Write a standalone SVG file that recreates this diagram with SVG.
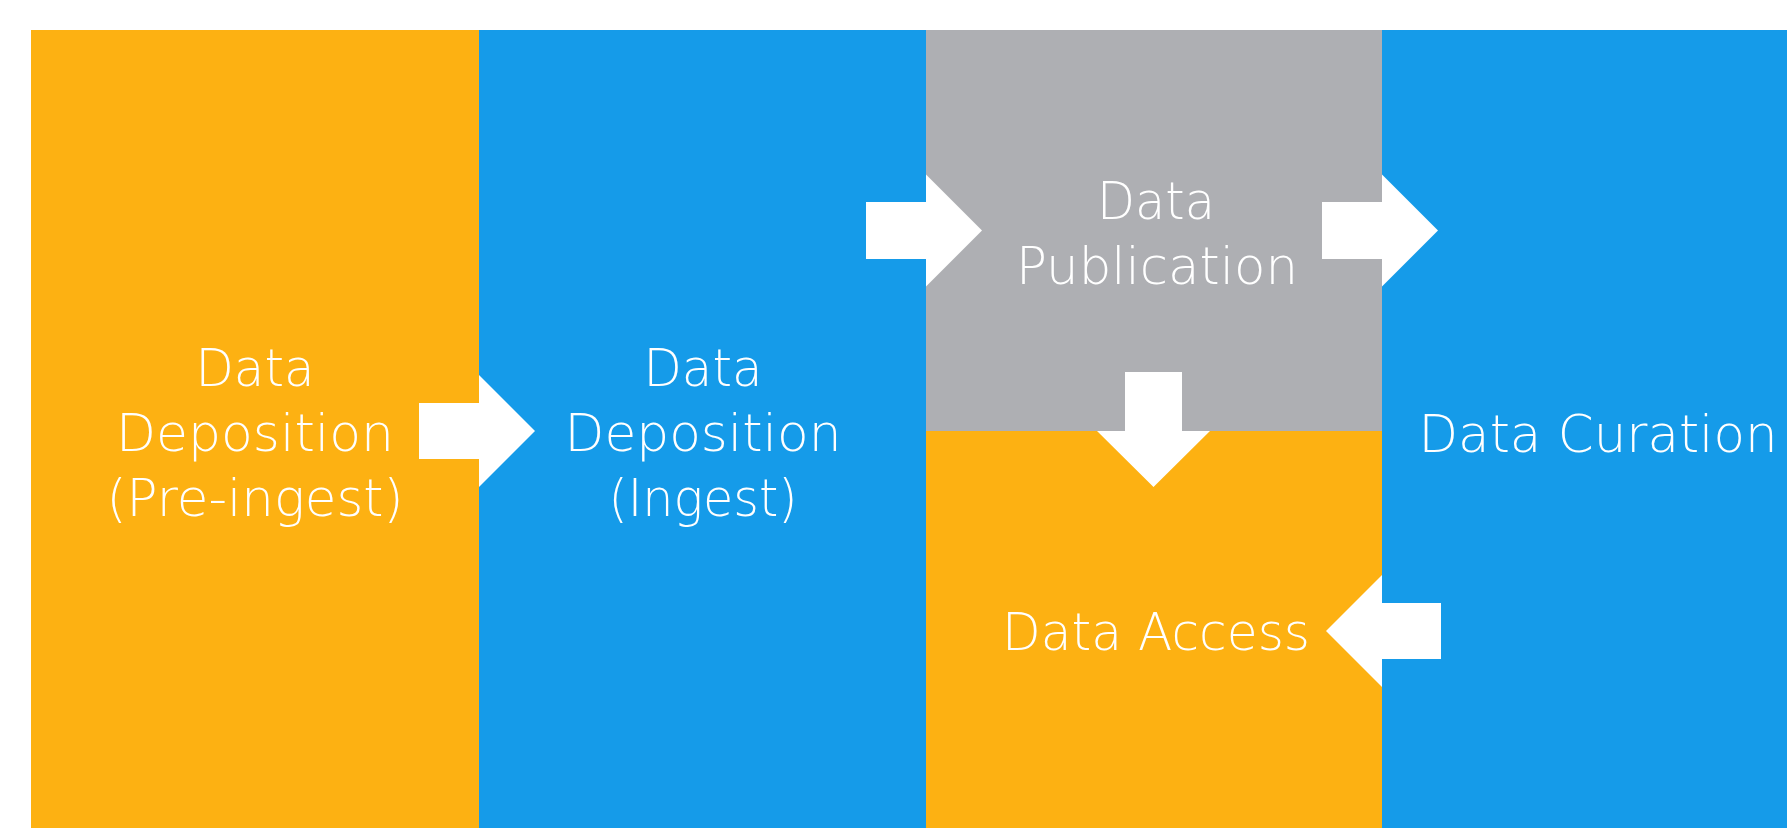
<svg xmlns="http://www.w3.org/2000/svg" width="1787" height="828" viewBox="0 0 1787 828">
<style>
.orange{fill:#FDB112}
.blue{fill:#159BE9}
.grey{fill:#AEAFB3}
.arrow{fill:#FFFFFF}
text{font-family:"DejaVu Sans","Liberation Sans",sans-serif;font-weight:200;font-size:51px;fill:#FFFFFF;text-anchor:middle}
</style>
<rect x="0" y="0" width="1787" height="828" fill="#FFFFFF"/>
<g id="node-preingest">
<rect class="orange" x="31" y="30" width="448" height="798"/>
<text x="255" y="386" textLength="119" lengthAdjust="spacingAndGlyphs">Data</text>
<text x="255" y="451" textLength="278" lengthAdjust="spacingAndGlyphs">Deposition</text>
<text x="255" y="516" textLength="297" lengthAdjust="spacingAndGlyphs">(Pre-ingest)</text>
</g>
<g id="node-ingest">
<rect class="blue" x="479" y="30" width="447" height="798"/>
<text x="703" y="386" textLength="119" lengthAdjust="spacingAndGlyphs">Data</text>
<text x="703" y="451" textLength="277" lengthAdjust="spacingAndGlyphs">Deposition</text>
<text x="703" y="516" textLength="189" lengthAdjust="spacingAndGlyphs">(Ingest)</text>
</g>
<g id="node-publication">
<rect class="grey" x="926" y="30" width="456" height="401"/>
<text x="1156" y="219" textLength="118" lengthAdjust="spacingAndGlyphs">Data</text>
<text x="1157" y="284" textLength="282" lengthAdjust="spacingAndGlyphs">Publication</text>
</g>
<g id="node-access">
<rect class="orange" x="926" y="431" width="456" height="397"/>
<text x="1156" y="650" textLength="308" lengthAdjust="spacingAndGlyphs">Data Access</text>
</g>
<g id="node-curation">
<rect class="blue" x="1382" y="30" width="405" height="798"/>
<text x="1598" y="452" textLength="359" lengthAdjust="spacingAndGlyphs">Data Curation</text>
</g>
<g id="connectors">
<polygon class="arrow" points="419,403 479,403 479,375 535,431 479,487 479,459 419,459"/>
<polygon class="arrow" points="866,202 926,202 926,174.5 982,230.5 926,286.5 926,259 866,259"/>
<polygon class="arrow" points="1322,202 1382,202 1382,174.5 1438,230.5 1382,286.5 1382,259 1322,259"/>
<polygon class="arrow" points="1125,372 1182,372 1182,431 1210,431 1153.5,487 1097,431 1125,431"/>
<polygon class="arrow" points="1441,603 1382,603 1382,575 1326,631 1382,687 1382,659 1441,659"/>
</g>
</svg>
